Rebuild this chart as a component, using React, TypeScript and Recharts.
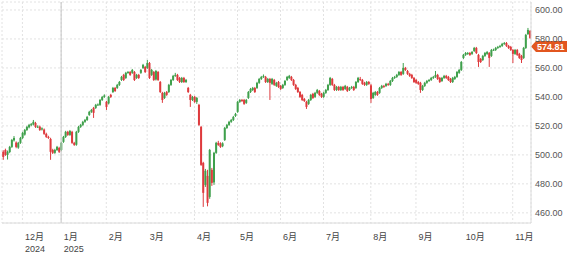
import * as React from "react";
import {
  ComposedChart,
  Bar,
  XAxis,
  YAxis,
  CartesianGrid,
  ReferenceLine,
} from "recharts";

// [open, high, low, close] per trading day, one array per month
const nov24 = [
  [502.1, 503.2, 496.6, 498.6], [503.4, 504.3, 499.3, 500.0], [500.0, 503.0, 496.8, 502.1],
  [502.0, 506.2, 501.2, 505.5], [505.5, 511.0, 504.8, 510.3], [510.0, 513.0, 509.2, 511.7],
  [508.5, 509.3, 504.6, 505.5], [505.0, 509.0, 504.2, 508.3], [508.3, 512.4, 507.6, 511.7],
];
const dec24 = [
  [511.7, 515.9, 511.0, 515.2], [514.0, 517.9, 513.3, 517.2], [517.2, 520.0, 516.5, 519.3],
  [519.0, 521.4, 518.3, 520.7], [520.5, 522.0, 519.8, 521.2], [521.0, 524.1, 520.3, 522.8],
  [522.0, 522.8, 518.6, 519.3], [519.3, 520.4, 518.6, 519.5], [519.5, 520.2, 516.5, 517.2],
  [517.5, 519.0, 516.8, 518.3], [517.5, 518.2, 513.8, 514.5], [514.5, 515.3, 511.7, 512.4],
  [512.4, 513.2, 511.0, 511.7], [511.0, 511.8, 496.6, 502.1], [503.4, 504.2, 500.6, 501.4],
  [501.4, 504.2, 500.7, 503.4], [503.4, 506.2, 502.7, 505.5], [504.8, 505.6, 501.3, 502.1],
];
const jan25 = [
  [503.4, 509.0, 502.6, 508.3], [509.0, 513.1, 508.3, 512.4], [512.4, 516.6, 511.7, 515.9],
  [515.9, 516.6, 513.1, 513.8], [513.8, 517.2, 513.1, 516.5], [515.9, 516.6, 507.6, 508.3],
  [508.3, 509.0, 506.2, 506.9], [507.0, 516.6, 506.3, 515.9], [515.9, 520.0, 515.2, 519.3],
  [519.3, 521.4, 518.6, 520.7], [520.7, 523.5, 520.0, 522.8], [522.8, 524.8, 522.1, 524.1],
  [524.1, 526.9, 523.4, 526.2], [527.6, 530.4, 526.9, 529.7], [529.7, 531.7, 529.0, 531.0],
  [532.4, 533.1, 525.5, 529.0], [532.4, 535.2, 531.7, 534.5], [534.5, 535.5, 533.8, 534.8],
  [534.5, 538.6, 533.8, 537.9], [537.9, 540.7, 537.2, 540.0], [540.0, 541.8, 539.3, 541.0],
];
const feb25 = [
  [536.6, 537.3, 531.0, 533.1], [535.5, 540.7, 534.8, 540.0], [541.4, 542.1, 539.3, 540.0],
  [543.4, 546.9, 542.7, 546.2], [546.2, 546.9, 543.4, 544.1], [546.2, 549.0, 545.5, 548.3],
  [548.3, 551.0, 547.6, 550.3], [551.7, 554.5, 551.0, 553.8], [555.2, 555.9, 551.0, 551.7],
  [553.1, 557.3, 552.4, 556.6], [556.6, 557.9, 555.9, 557.2], [557.2, 557.9, 554.5, 555.2],
  [556.6, 559.3, 555.9, 558.6], [557.2, 557.9, 551.0, 551.7], [553.1, 555.9, 552.4, 555.2],
  [555.2, 555.9, 552.4, 553.1], [556.6, 559.3, 555.9, 558.6], [560.0, 562.8, 559.3, 562.1],
  [560.7, 561.4, 556.5, 557.2],
];
const mar25 = [
  [560.0, 565.5, 559.3, 563.4], [563.4, 564.1, 552.4, 553.1], [555.2, 559.3, 554.5, 558.6],
  [557.2, 557.9, 551.0, 551.7], [552.0, 558.6, 551.3, 557.9], [557.2, 557.9, 551.0, 551.7],
  [550.3, 551.0, 542.7, 543.4], [542.8, 543.5, 535.9, 537.9], [539.3, 543.5, 538.6, 542.8],
  [543.4, 544.1, 540.7, 541.4], [543.4, 549.0, 542.7, 548.3], [548.3, 552.4, 547.6, 551.7],
  [551.7, 555.2, 551.0, 554.5], [554.5, 556.6, 553.8, 555.2], [555.2, 555.9, 551.0, 551.7],
  [553.1, 553.8, 549.6, 550.3], [550.3, 553.8, 549.6, 553.1], [553.1, 553.8, 549.6, 550.3],
  [550.3, 552.4, 549.6, 551.7], [546.2, 546.9, 542.7, 543.4], [541.4, 542.1, 533.1, 537.9],
  [537.9, 540.7, 537.2, 540.0],
];
const apr25 = [
  [540.0, 540.7, 535.9, 536.6], [536.6, 540.0, 535.2, 539.3], [534.5, 535.2, 520.0, 520.7],
  [519.3, 520.0, 492.4, 493.1], [494.5, 495.2, 464.1, 473.8], [479.3, 490.3, 477.9, 489.0],
  [485.5, 489.7, 464.5, 466.9], [471.0, 504.1, 469.7, 503.4], [489.7, 491.0, 478.6, 480.7],
  [481.0, 502.1, 479.3, 501.4], [501.4, 509.0, 500.7, 508.3], [508.3, 509.7, 506.2, 506.9],
  [508.0, 508.7, 504.8, 505.5], [506.0, 508.7, 505.3, 508.0], [510.3, 519.3, 509.6, 518.6],
  [518.6, 521.4, 517.9, 520.7], [520.7, 523.5, 520.0, 522.8], [522.8, 524.8, 522.1, 524.1],
  [524.1, 526.9, 523.4, 526.2], [526.9, 529.0, 526.2, 528.3],
];
const may25 = [
  [529.7, 537.3, 529.0, 536.6], [536.6, 538.6, 535.9, 537.9], [537.9, 538.6, 536.5, 537.2],
  [537.9, 538.6, 534.5, 535.2], [535.9, 538.6, 535.2, 537.9], [539.3, 544.1, 538.6, 543.4],
  [543.4, 546.2, 542.7, 545.5], [544.8, 546.9, 544.1, 546.2], [546.2, 546.9, 542.7, 543.4],
  [546.2, 550.4, 545.5, 549.7], [549.7, 553.1, 549.0, 552.4], [552.4, 554.5, 551.7, 553.8],
  [553.8, 555.5, 553.1, 554.5], [553.8, 554.5, 549.6, 550.3], [550.3, 553.1, 549.6, 552.4],
  [552.4, 553.1, 537.9, 549.7], [549.0, 553.1, 548.3, 552.4], [551.7, 552.4, 547.6, 548.3],
  [547.6, 550.4, 546.9, 549.7], [550.3, 551.0, 546.2, 546.9],
];
const jun25 = [
  [547.6, 548.3, 544.8, 545.5], [546.2, 549.0, 545.5, 548.3], [548.3, 551.7, 547.6, 551.0],
  [551.7, 554.5, 551.0, 553.8], [553.1, 555.2, 552.4, 554.5], [553.8, 554.5, 551.0, 551.7],
  [551.7, 552.4, 547.6, 548.3], [548.3, 549.0, 544.8, 545.5], [546.2, 546.9, 542.7, 543.4],
  [543.4, 544.1, 539.3, 540.0], [541.4, 542.1, 537.2, 537.9], [538.6, 539.3, 536.5, 537.2],
  [536.6, 537.3, 531.7, 533.1], [535.2, 538.6, 534.5, 537.9], [537.9, 542.1, 537.2, 541.4],
  [542.1, 542.8, 538.6, 539.3], [540.0, 543.5, 539.3, 542.8], [542.8, 545.5, 542.1, 544.8],
  [544.1, 544.8, 540.7, 541.4], [542.1, 542.8, 539.3, 540.0],
];
const jul25 = [
  [540.0, 543.5, 539.3, 542.8], [542.8, 545.5, 542.1, 544.8], [544.8, 549.0, 544.1, 548.3],
  [548.3, 553.8, 547.6, 553.1], [552.4, 553.1, 547.6, 548.3], [548.3, 549.0, 544.1, 544.8],
  [544.8, 547.6, 544.1, 546.9], [546.9, 547.6, 544.1, 544.8], [544.8, 547.6, 544.1, 546.9],
  [546.9, 547.6, 544.1, 544.8], [545.5, 548.3, 544.8, 547.6], [546.9, 547.6, 543.4, 544.1],
  [544.8, 546.9, 544.1, 546.2], [546.2, 547.6, 545.5, 546.9], [546.9, 547.6, 544.1, 544.8],
  [546.2, 551.0, 545.5, 550.3], [550.3, 553.8, 549.6, 553.1], [552.4, 553.8, 551.0, 551.7],
  [551.7, 552.4, 548.3, 549.0], [549.7, 550.4, 547.6, 548.3], [548.3, 551.0, 547.6, 550.3],
  [550.3, 551.0, 548.3, 549.0],
];
const aug25 = [
  [548.0, 549.0, 535.9, 538.6], [539.3, 543.5, 538.6, 542.8], [541.4, 544.1, 540.7, 543.4],
  [543.4, 544.1, 540.7, 541.4], [542.8, 546.9, 542.1, 546.2], [546.2, 548.3, 545.5, 547.6],
  [547.6, 548.3, 546.2, 546.9], [547.6, 549.7, 546.9, 549.0], [549.0, 549.7, 547.6, 548.3],
  [548.3, 551.7, 547.6, 551.0], [551.0, 553.8, 550.3, 553.1], [553.1, 554.5, 552.4, 553.8],
  [553.8, 555.9, 553.1, 555.2], [555.2, 557.9, 554.5, 557.2], [557.2, 557.9, 554.5, 555.2],
  [555.9, 563.4, 555.2, 560.0], [560.0, 560.7, 557.9, 558.6], [557.9, 558.6, 555.2, 555.9],
  [555.9, 556.6, 553.8, 554.5], [555.2, 555.9, 552.4, 553.1], [553.1, 553.8, 549.6, 550.3],
];
const sep25 = [
  [551.7, 552.4, 549.0, 549.7], [550.3, 551.0, 548.3, 549.0], [549.7, 550.4, 542.8, 544.8],
  [544.8, 548.3, 544.1, 547.6], [547.6, 550.4, 546.9, 549.7], [549.7, 551.7, 549.0, 551.0],
  [551.0, 552.4, 550.3, 551.7], [551.7, 553.8, 551.0, 553.1], [553.1, 554.5, 552.4, 553.8],
  [553.8, 557.9, 553.1, 555.2], [555.2, 555.9, 551.7, 552.4], [553.1, 553.8, 549.6, 550.3],
  [551.0, 553.8, 550.3, 553.1], [553.1, 555.2, 552.4, 554.5], [554.5, 555.2, 552.4, 553.1],
  [553.8, 554.5, 551.0, 551.7], [552.4, 553.1, 549.6, 550.3], [550.3, 553.8, 549.6, 553.1],
  [552.4, 554.5, 551.7, 553.8], [553.8, 557.9, 553.1, 557.2], [556.6, 559.3, 555.9, 558.6],
  [558.6, 564.8, 557.9, 564.1],
];
const oct25 = [
  [566.9, 569.7, 566.2, 569.0], [569.0, 571.0, 568.3, 570.3], [569.7, 571.0, 569.0, 570.3],
  [570.3, 571.0, 568.3, 569.0], [569.7, 571.7, 569.0, 571.0], [571.7, 574.5, 571.0, 573.8],
  [573.8, 574.5, 569.6, 570.3], [569.0, 569.7, 560.7, 564.1], [566.2, 566.9, 563.4, 564.1],
  [565.5, 569.0, 564.8, 568.3], [568.3, 571.0, 567.6, 570.3], [569.7, 571.7, 569.0, 571.0],
  [570.3, 571.0, 560.7, 566.9], [568.3, 573.1, 567.6, 572.4], [572.4, 573.3, 571.7, 572.6],
  [572.4, 574.5, 571.7, 573.8], [573.8, 575.2, 573.1, 574.5], [574.5, 575.9, 573.8, 575.2],
  [575.2, 577.3, 574.5, 576.6], [576.6, 577.9, 575.9, 577.2], [577.2, 577.9, 574.5, 575.2],
  [575.2, 575.9, 573.1, 573.8], [574.5, 575.2, 571.7, 572.4],
];
const nov25 = [
  [572.4, 573.1, 563.4, 569.7], [569.7, 573.1, 569.0, 572.4], [572.4, 573.1, 568.3, 569.0],
  [569.7, 570.4, 566.2, 566.9], [568.3, 569.0, 563.4, 565.5], [566.9, 574.5, 566.2, 573.8],
  [573.8, 583.5, 573.1, 582.8], [583.4, 587.6, 582.7, 586.2], [585.5, 586.2, 580.0, 580.7],
];

const months = [nov24, dec24, jan25, feb25, mar25, apr25, may25, jun25, jul25, aug25, sep25, oct25, nov25];
const monthLabels = ["11月", "12月", "1月", "2月", "3月", "4月", "5月", "6月", "7月", "8月", "9月", "10月", "11月"];
const yearLabels = ["", "2024", "2025", "", "", "", "", "", "", "", "", "", ""];
const priceTicks = [460, 480, 500, 520, 540, 560, 580, 600];
const lastPrice = 574.81;

const UP = "#3fa04c";
const DOWN = "#de3a3d";
const FONT = "Arial, 'Liberation Sans', 'Noto Sans CJK JP', sans-serif";

const data = months.flatMap((m, mi) =>
  m.map((c, di) => ({ key: `${mi}-${di}`, open: c[0], high: c[1], low: c[2], close: c[3] }))
);
const monthTicks = months.slice(1).map((_, k) => `${k + 1}-0`);

const Candle = (props: any) => {
  const { x, y, width, height, payload } = props;
  if (!payload) return null;
  const { open, close, high, low } = payload;
  const color = close >= open ? UP : DOWN;
  const h = Math.abs(height);
  const top = height < 0 ? y + height : y;
  const ratio = h / (high - low || 1);
  const yO = top + (high - open) * ratio;
  const yC = top + (high - close) * ratio;
  const cx = x + width / 2;
  return (
    <g>
      <line x1={cx} x2={cx} y1={top} y2={top + h} stroke={color} strokeWidth={1} />
      <rect x={x} y={Math.min(yO, yC)} width={width} height={Math.max(1, Math.abs(yO - yC))} fill={color} />
    </g>
  );
};

const MonthTick = (props: any) => {
  const { x, y, payload } = props;
  const mi = parseInt(String(payload.value).split("-")[0], 10);
  return (
    <g>
      <text x={x + 2.5} y={y + 16.5} fontSize={9} fill="#444" fontFamily={FONT} textAnchor="start">
        {monthLabels[mi]}
      </text>
      {yearLabels[mi] ? (
        <text x={x + 2.5} y={y + 28.5} fontSize={9} fill="#444" fontFamily={FONT} textAnchor="start">
          {yearLabels[mi]}
        </text>
      ) : null}
    </g>
  );
};

const PriceTag = (props: any) => {
  const vb = props.viewBox || {};
  const xr = (vb.x || 0) + (vb.width || 0);
  const yc = vb.y || 0;
  return (
    <g>
      <polygon
        points={`${xr},${yc} ${xr + 5},${yc - 5.5} ${xr + 36},${yc - 5.5} ${xr + 36},${yc + 5.5} ${xr + 5},${yc + 5.5}`}
        fill="#e2561f"
      />
      <text x={xr + 6} y={yc + 3.3} fontSize={9} fill="#fff" fontWeight="bold" fontFamily={FONT}>
        {lastPrice.toFixed(2)}
      </text>
    </g>
  );
};

export default function App() {
  return (
    <div style={{ position: "absolute", left: 0, top: 0, width: 567, height: 256, background: "#fff" }}>
      <ComposedChart
        width={567}
        height={256}
        data={data}
        barCategoryGap="12%"
        margin={{ top: 2, right: 0, left: 2, bottom: 0 }}>
        <CartesianGrid stroke="#e2e2e2" strokeDasharray="2 2" />
        <XAxis
          dataKey="key"
          type="category"
          ticks={monthTicks}
          interval={0}
          tick={<MonthTick />}
          tickLine={false}
          tickSize={0}
          tickMargin={0}
          height={33}
          axisLine={{ stroke: "#dcdcdc" }} />
        <XAxis
          xAxisId="top"
          dataKey="key"
          orientation="top"
          height={0}
          tick={false}
          tickLine={false}
          axisLine={{ stroke: "#dcdcdc" }} />
        <YAxis
          yAxisId={0}
          orientation="right"
          width={36}
          domain={[453, 605.5]}
          ticks={priceTicks}
          allowDataOverflow
          tickFormatter={(v: number) => v.toFixed(2)}
          tick={{ fontSize: 9, fill: "#555", fontFamily: FONT }}
          tickLine={false}
          tickSize={0}
          tickMargin={4}
          axisLine={{ stroke: "#dcdcdc" }} />
        <YAxis
          yAxisId="left"
          orientation="left"
          width={0}
          domain={[453, 605.5]}
          tick={false}
          tickLine={false}
          axisLine={{ stroke: "#dcdcdc" }} />
        <ReferenceLine x="2-0" stroke="#c4c4c4" strokeWidth={1} />
        <Bar
          dataKey={(d: any) => [d.low, d.high]}
          shape={<Candle />}
          isAnimationActive={false} />
        <ReferenceLine y={lastPrice} stroke="none" label={(p: any) => <PriceTag {...p} />} />
      </ComposedChart>
    </div>
  );
}
